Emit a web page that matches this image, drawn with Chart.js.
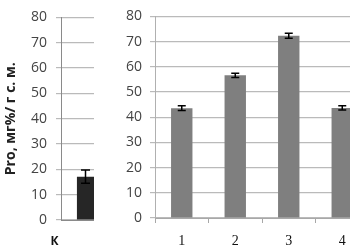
<!DOCTYPE html>
<html><head><meta charset="utf-8">
<script src="https://cdn.jsdelivr.net/npm/chart.js@4"></script>
<style>
html,body{margin:0;padding:0;background:#fff;overflow:hidden;width:350px;height:245px;}
#lwrap{position:absolute;left:0;top:0;width:94px;height:245px;overflow:hidden;}
#rwrap{position:absolute;left:100px;top:0;width:250px;height:245px;overflow:hidden;}
#lc{position:absolute;left:0;top:0;}
#rc{position:absolute;left:0;top:0;}
</style></head>
<body>
<div id="lwrap"><canvas id="lc" width="120" height="245"></canvas></div>
<div id="rwrap"><canvas id="rc" width="280" height="245"></canvas></div>
<script>
const controlLabels = ['К'];
const controlValues = [17.1];
const controlErrors = [2.6];
const treatLabels = ['1', '2', '3', '4'];
const treatValues = [43.6, 56.6, 72.3, 43.7];
const treatErrors = [0.9, 0.8, 1.0, 0.8];
const yTicks = [0, 10, 20, 30, 40, 50, 60, 70, 80];
const yTitle = 'Pro, мг%/ г с. м.';

const errorPlugin = {
  id: 'errbars',
  afterDatasetsDraw(chart, args, opts) {
    const ctx = chart.ctx;
    const meta = chart.getDatasetMeta(0);
    const ys = chart.scales.y;
    const errs = opts.errors;
    const vals = chart.data.datasets[0].data;
    ctx.save();
    ctx.strokeStyle = '#000';
    ctx.lineWidth = 1.5;
    meta.data.forEach((bar, i) => {
      const x = bar.x;
      const top = ys.getPixelForValue(vals[i] + errs[i]);
      const bot = ys.getPixelForValue(vals[i] - errs[i]);
      ctx.beginPath();
      ctx.moveTo(x, top); ctx.lineTo(x, bot);
      ctx.moveTo(x - opts.cap, top); ctx.lineTo(x + opts.cap, top);
      ctx.moveTo(x - opts.cap, bot); ctx.lineTo(x + opts.cap, bot);
      ctx.stroke();
    });
    ctx.restore();
  }
};

const gridColor = '#bababa';
const tickFont = {family: 'Open Sans', size: 14};

new Chart(document.getElementById('lc'), {
  type: 'bar',
  data: {labels: controlLabels, datasets: [{data: controlValues, backgroundColor: '#262626', barPercentage: 0.35, categoryPercentage: 1}]},
  options: {
    responsive: false, animation: false,
    layout: {padding: {top: 10, right: 10, bottom: 0, left: 0}},
    plugins: {legend: {display: false}, tooltip: {enabled: false}, errbars: {errors: controlErrors, cap: 4.5}},
    scales: {
      x: {
        grid: {display: true, drawOnChartArea: false, drawTicks: false, color: gridColor},
        border: {color: '#8a8a8a'},
        ticks: {color: '#111', font: {family: 'Open Sans', size: 12, weight: 'bold'}, labelOffset: -31, padding: 14},
        afterFit: s => { s.height = 25; }
      },
      y: {
        min: 0, max: 80,
        afterBuildTicks: s => { s.ticks = yTicks.map(v => ({value: v})); },
        grid: {color: gridColor, tickLength: 5, lineWidth: 1.2},
        border: {color: '#8a8a8a'},
        ticks: {color: '#444', font: tickFont, padding: 9},
        title: {display: true, text: yTitle, color: '#222', font: {family: 'Open Sans', size: 14, weight: 'bold'}, padding: {top: 3, bottom: 0}},
        afterFit: s => { s.width = 61; }
      }
    }
  },
  plugins: [errorPlugin]
});

new Chart(document.getElementById('rc'), {
  type: 'bar',
  data: {labels: treatLabels, datasets: [{data: treatValues, backgroundColor: '#7f7f7f', barPercentage: 0.4, categoryPercentage: 1}]},
  options: {
    responsive: false, animation: false,
    layout: {padding: {top: 7, right: 11, bottom: 0, left: 0}},
    plugins: {legend: {display: false}, tooltip: {enabled: false}, errbars: {errors: treatErrors, cap: 4}},
    scales: {
      x: {
        offset: true,
        grid: {display: true, offset: true, drawOnChartArea: false, drawTicks: true, tickLength: 5, color: '#a8a8a8'},
        border: {color: '#a8a8a8'},
        ticks: {color: '#111', font: {family: 'Liberation Serif', size: 14}, padding: 10},
        afterFit: s => { s.height = 27; }
      },
      y: {
        min: 0, max: 80,
        afterBuildTicks: s => { s.ticks = yTicks.map(v => ({value: v})); },
        grid: {color: gridColor, tickLength: 5, lineWidth: 1.2},
        border: {color: '#b0b0b0'},
        ticks: {color: '#444', font: tickFont, padding: 8},
        afterFit: s => { s.width = 55; }
      }
    }
  },
  plugins: [errorPlugin]
});
</script>
</body></html>
